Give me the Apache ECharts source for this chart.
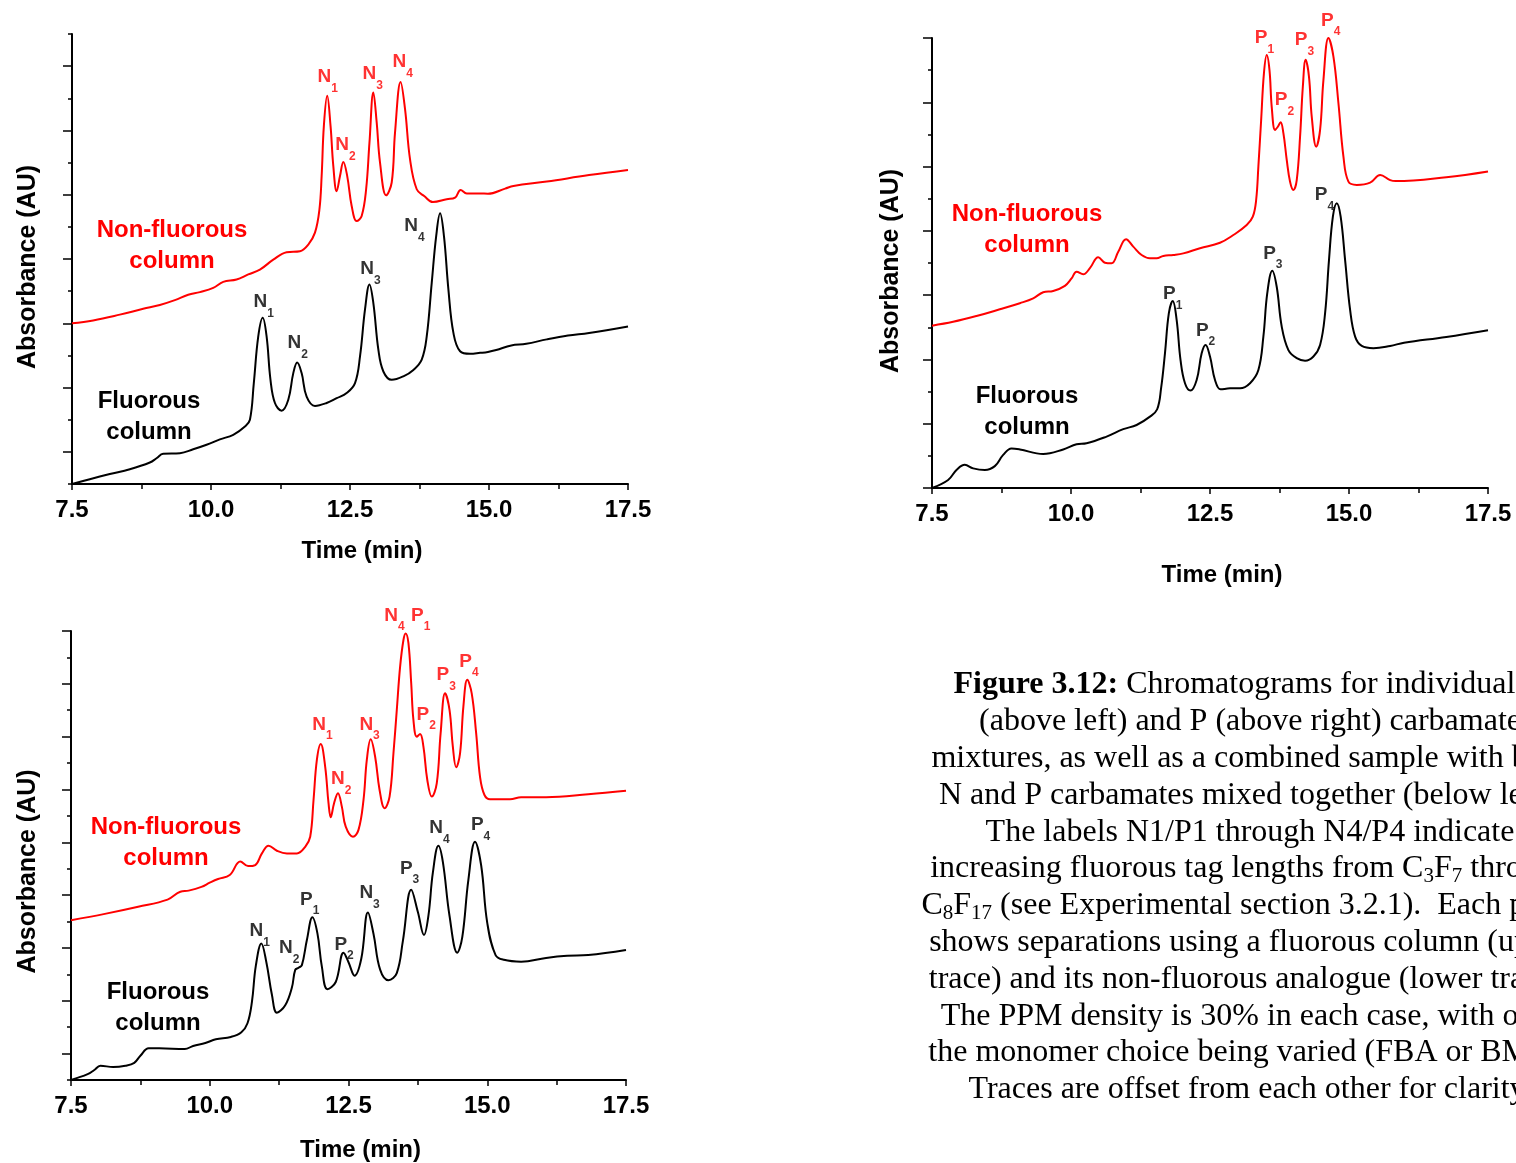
<!DOCTYPE html>
<html>
<head>
<meta charset="utf-8">
<title>Figure 3.12 chromatograms</title>
<script src="https://cdn.jsdelivr.net/npm/echarts@6.0.0/dist/echarts.min.js"></script>
<style>
  html, body { margin: 0; padding: 0; background: #fff; }
  #chart { width: 1516px; height: 1163px; }
</style>
</head>
<body>
<div id="chart"></div>
<script>
// ---- data: [time (min), absorbance (offset units)] ----

// time axis labels
const timeTicks = [7.5, 10.0, 12.5, 15.0, 17.5]

// top left: N carbamates
const nFluorous = [[7.5,0],[7.82,0.15],[8.18,0.31],[8.54,0.46],[8.9,0.67],[9.02,0.8],[9.14,0.94],[9.44,0.96],[9.68,1.08],[9.92,1.22],[10.16,1.39],[10.4,1.53],[10.61,1.79],[10.7,2.0],[10.77,3.14],[10.85,4.59],[10.93,5.17],[11.0,4.59],[11.07,3.24],[11.15,2.52],[11.27,2.28],[11.39,2.62],[11.48,3.45],[11.55,3.78],[11.63,3.45],[11.72,2.72],[11.87,2.43],[12.08,2.52],[12.26,2.67],[12.44,2.83],[12.59,3.14],[12.68,3.97],[12.77,5.43],[12.85,6.21],[12.92,5.63],[13.01,4.18],[13.1,3.5],[13.25,3.24],[13.46,3.35],[13.64,3.55],[13.79,3.87],[13.88,4.59],[13.97,6.26],[14.05,7.71],[14.12,8.42],[14.19,7.71],[14.27,6.05],[14.36,4.7],[14.48,4.13],[14.66,4.05],[14.84,4.08],[14.98,4.11],[15.13,4.17],[15.4,4.31],[15.67,4.36],[16.04,4.5],[16.42,4.62],[16.8,4.7],[17.5,4.9]]
const nNonFluorous = [[7.5,5.0],[7.88,5.09],[8.36,5.27],[8.78,5.45],[9.08,5.57],[9.35,5.72],[9.59,5.89],[9.8,5.97],[10.04,6.1],[10.22,6.29],[10.46,6.36],[10.67,6.52],[10.88,6.67],[11.12,6.98],[11.36,7.21],[11.6,7.24],[11.75,7.45],[11.87,7.82],[11.95,8.54],[11.99,9.58],[12.03,11.14],[12.09,12.08],[12.15,11.14],[12.2,9.89],[12.26,9.11],[12.32,9.58],[12.38,10.02],[12.45,9.58],[12.53,8.65],[12.62,8.18],[12.71,8.34],[12.79,9.17],[12.85,10.62],[12.92,12.18],[12.98,11.25],[13.04,10.0],[13.15,8.98],[13.25,9.38],[13.31,10.94],[13.41,12.51],[13.49,11.66],[13.58,10.1],[13.7,9.17],[13.84,8.95],[13.99,8.77],[14.24,8.86],[14.39,8.91],[14.49,9.15],[14.6,9.04],[14.84,9.04],[14.98,9.03],[15.29,9.19],[15.44,9.27],[16.04,9.41],[16.8,9.61],[17.5,9.77]]

// top right: P carbamates
const pFluorous = [[7.5,0],[7.79,0.25],[7.94,0.56],[8.09,0.72],[8.24,0.61],[8.45,0.56],[8.63,0.68],[8.78,1.03],[8.93,1.23],[9.08,1.2],[9.5,1.06],[9.86,1.2],[10.1,1.36],[10.28,1.39],[10.64,1.6],[10.94,1.83],[11.18,1.96],[11.42,2.22],[11.55,2.45],[11.62,3.1],[11.69,4.19],[11.76,5.44],[11.83,5.82],[11.9,5.23],[11.97,3.98],[12.05,3.26],[12.15,3.03],[12.26,3.36],[12.35,4.19],[12.42,4.45],[12.5,4.09],[12.59,3.36],[12.69,3.07],[12.86,3.1],[13.04,3.1],[13.22,3.26],[13.37,3.67],[13.46,4.71],[13.53,6.06],[13.62,6.76],[13.7,6.26],[13.79,5.02],[13.91,4.29],[14.06,4.04],[14.21,3.96],[14.36,4.09],[14.48,4.45],[14.57,5.44],[14.64,7.09],[14.71,8.44],[14.78,8.86],[14.85,8.44],[14.93,7.09],[15.02,5.54],[15.11,4.71],[15.23,4.42],[15.44,4.35],[15.74,4.42],[15.99,4.52],[16.75,4.7],[17.5,4.91]]
const pNonFluorous = [[7.5,5.05],[7.88,5.17],[8.3,5.35],[8.72,5.56],[9.08,5.75],[9.32,5.9],[9.5,6.09],[9.68,6.13],[9.89,6.29],[10.01,6.52],[10.1,6.73],[10.22,6.65],[10.34,6.84],[10.49,7.18],[10.61,7.01],[10.73,6.99],[10.85,7.35],[10.99,7.74],[11.12,7.51],[11.27,7.25],[11.42,7.15],[11.54,7.15],[11.66,7.22],[11.84,7.25],[12.02,7.3],[12.32,7.46],[12.68,7.63],[12.92,7.87],[13.16,8.18],[13.27,8.44],[13.33,8.96],[13.37,10.0],[13.42,11.45],[13.47,12.9],[13.52,13.47],[13.57,13.0],[13.61,11.86],[13.67,11.14],[13.72,11.24],[13.77,11.38],[13.82,11.04],[13.88,10.21],[13.94,9.53],[14.0,9.27],[14.06,9.58],[14.12,10.93],[14.17,12.49],[14.22,13.32],[14.28,12.8],[14.33,11.55],[14.41,10.62],[14.48,11.14],[14.54,12.69],[14.63,14.0],[14.72,13.42],[14.81,11.97],[14.9,10.31],[14.99,9.53],[15.14,9.43],[15.38,9.5],[15.56,9.74],[15.74,9.58],[15.84,9.55],[16.75,9.67],[17.5,9.85]]

// bottom left: N and P mixed
const npFluorous = [[7.5,0],[7.8,0.22],[7.92,0.38],[8.03,0.54],[8.26,0.49],[8.48,0.54],[8.64,0.65],[8.75,0.92],[8.9,1.2],[9.09,1.2],[9.55,1.17],[9.7,1.29],[9.92,1.4],[10.11,1.54],[10.38,1.63],[10.57,1.81],[10.68,2.15],[10.76,2.96],[10.83,4.32],[10.93,5.17],[11.02,4.46],[11.12,3.23],[11.21,2.55],[11.36,2.83],[11.48,3.5],[11.54,4.17],[11.6,4.25],[11.66,4.35],[11.75,5.3],[11.85,6.16],[11.94,5.55],[12.02,4.29],[12.12,3.44],[12.27,3.71],[12.41,4.82],[12.5,4.46],[12.61,3.95],[12.73,4.59],[12.85,6.34],[12.95,5.54],[13.07,4.18],[13.22,3.78],[13.37,4.05],[13.48,5.27],[13.63,7.2],[13.75,6.36],[13.86,5.49],[13.94,6.22],[14.02,7.85],[14.12,8.87],[14.2,8.26],[14.32,6.22],[14.46,4.82],[14.55,5.41],[14.66,7.58],[14.78,9.02],[14.89,8.13],[15.0,5.95],[15.15,4.73],[15.3,4.55],[15.61,4.48],[16.06,4.62],[16.44,4.7],[16.82,4.73],[17.5,4.92]]
const npNonFluorous = [[7.5,6.05],[8.11,6.29],[8.71,6.56],[9.24,6.83],[9.47,7.13],[9.62,7.17],[9.85,7.31],[10.0,7.47],[10.15,7.61],[10.36,7.76],[10.55,8.27],[10.69,8.1],[10.82,8.14],[10.94,8.58],[11.06,8.87],[11.21,8.68],[11.39,8.58],[11.57,8.58],[11.72,8.83],[11.81,9.21],[11.87,10.6],[11.93,12.12],[12.0,12.72],[12.08,11.86],[12.14,10.48],[12.18,9.95],[12.24,10.48],[12.31,10.86],[12.38,10.35],[12.45,9.59],[12.58,9.21],[12.68,9.47],[12.77,10.6],[12.83,12.12],[12.9,12.9],[12.98,12.24],[13.06,10.98],[13.15,10.29],[13.24,10.73],[13.31,12.37],[13.37,14.01],[13.43,15.65],[13.49,16.66],[13.53,16.91],[13.58,16.54],[13.63,15.02],[13.67,13.63],[13.73,13.0],[13.79,13.1],[13.85,12.62],[13.92,11.36],[14.0,10.73],[14.09,11.23],[14.16,13.13],[14.24,14.64],[14.32,14.01],[14.38,12.62],[14.44,11.84],[14.51,12.37],[14.57,14.14],[14.64,15.15],[14.72,14.64],[14.8,13.13],[14.87,11.48],[14.95,10.79],[15.05,10.63],[15.41,10.63],[15.61,10.71],[16.06,10.71],[16.82,10.82],[17.5,10.95]]

// peak labels: [letter, subscript, time, absorbance] (label centre in data units)
const nFluorousLabels = [['N','1',10.95,5.53],['N','2',11.56,4.27],['N','3',12.87,6.56],['N','4',13.66,7.91]]
const nNonFluorousLabels = [['N','1',12.1,12.54],['N','2',12.42,10.43],['N','3',12.91,12.64],['N','4',13.45,13.01]]
const pFluorousLabels = [['P','1',11.83,5.92],['P','2',12.42,4.78],['P','3',13.63,7.17],['P','4',14.56,8.99]]
const pNonFluorousLabels = [['P','1',13.48,13.87],['P','2',13.84,11.95],['P','3',14.2,13.82],['P','4',14.67,14.42]]
const npFluorousLabels = [['N','1',10.9,5.48],['N','2',11.43,4.85],['P','1',11.8,6.68],['P','2',12.42,4.98],['N','3',12.88,6.94],['P','3',13.6,7.86],['N','4',14.14,9.4],['P','4',14.88,9.5]]
const npNonFluorousLabels = [['N','1',12.03,13.31],['N','2',12.37,11.25],['N','3',12.88,13.31],['N','4',13.33,17.44],['P','1',13.8,17.44],['P','2',13.9,13.69],['P','3',14.26,15.18],['P','4',14.67,15.69]]

// y tick marks: long ones at these offsets
const longTicksN = [1, 3, 5, 7, 9, 11, 13]
const longTicksP = [0, 2, 4, 6, 8, 10, 12, 14]
const longTicksNP = [1, 3, 5, 7, 9, 11, 13, 15, 17]

// caption lines
const captionLines = [
  '{b|Figure 3.12:} Chromatograms for individual N',
  '(above left) and P (above right) carbamate',
  'mixtures, as well as a combined sample with both',
  'N and P carbamates mixed together (below left).',
  'The labels N1/P1 through N4/P4 indicate',
  'increasing fluorous tag lengths from C{s|3}F{s|7} through',
  'C{s|8}F{s|17} (see Experimental section 3.2.1).  Each panel',
  'shows separations using a fluorous column (upper',
  'trace) and its non-fluorous analogue (lower trace).',
  'The PPM density is 30% in each case, with only',
  'the monomer choice being varied (FBA or BMA).',
  'Traces are offset from each other for clarity.'
]

// ---- chart ----
const SANS = '"Liberation Sans", Arial, sans-serif'
const SERIF = '"Liberation Serif", "Times New Roman", serif'
const RED = '#ff0000'
const BLACK = '#000000'

// 三个面板的位置
const panels = [
  { grid: { left: 72, top: 34, width: 556, height: 450 }, yMax: 14, longTicks: longTicksN,
    xGap: 55, yGap: 31, yShift: 16,
    traces: [nFluorous, nNonFluorous], labels: [nFluorousLabels, nNonFluorousLabels] },
  { grid: { left: 932, top: 38, width: 556, height: 450 }, yMax: 14, longTicks: longTicksP,
    xGap: 75, yGap: 28, yShift: 16,
    traces: [pFluorous, pNonFluorous], labels: [pFluorousLabels, pNonFluorousLabels] },
  { grid: { left: 71, top: 631, width: 555, height: 449 }, yMax: 17, longTicks: longTicksNP,
    xGap: 58, yGap: 30, yShift: 32,
    traces: [npFluorous, npNonFluorous], labels: [npFluorousLabels, npNonFluorousLabels] }
]

const grids = []
const xAxes = []
const yAxes = []
const series = []

const peakRich = color => ({
  b: { fontSize: 19, fontWeight: 'bold', fontFamily: SANS, color, lineHeight: 27, verticalAlign: 'top' },
  s: { fontSize: 12, fontWeight: 'bold', fontFamily: SANS, color, verticalAlign: 'bottom' }
})

panels.forEach((p, i) => {
  grids.push(Object.assign({ outerBoundsMode: 'none' }, p.grid))

  xAxes.push({
    gridIndex: i,
    type: 'value',
    min: 7.5,
    max: 17.5,
    interval: 2.5,
    name: 'Time (min)',
    nameLocation: 'middle',
    nameGap: p.xGap,
    nameTextStyle: { fontSize: 24, fontWeight: 'bold', color: BLACK, fontFamily: SANS, padding: [0, 0, 0, 24] },
    axisLine: { lineStyle: { color: BLACK, width: 2 } },
    axisTick: { length: 6, lineStyle: { color: BLACK, width: 1.5 } },
    minorTick: { show: true, splitNumber: 2, length: 5, lineStyle: { color: BLACK, width: 1.5 } },
    axisLabel: {
      fontSize: 24, fontWeight: 'bold', color: BLACK, fontFamily: SANS, margin: 14,
      showMinLabel: true, showMaxLabel: true,
      customValues: timeTicks,
      formatter: v => v.toFixed(1)
    },
    splitLine: { show: false }
  })

  // 主 y 轴: 短刻度
  yAxes.push({
    gridIndex: i,
    type: 'value',
    min: 0,
    max: p.yMax,
    interval: 1,
    name: 'Absorbance (AU)',
    nameLocation: 'middle',
    nameGap: p.yGap,
    nameRotate: 90,
    nameTextStyle: { fontSize: 25, fontWeight: 'bold', color: BLACK, fontFamily: SANS, padding: [0, p.yShift, 0, 0] },
    axisLine: { show: true, lineStyle: { color: BLACK, width: 2 } },
    axisTick: { show: true, length: 4, lineStyle: { color: BLACK, width: 1.5 } },
    axisLabel: { show: false },
    splitLine: { show: false }
  })
  // 叠加 y 轴: 长刻度
  yAxes.push({
    gridIndex: i,
    type: 'value',
    position: 'left',
    min: 0,
    max: p.yMax,
    interval: 1,
    axisLine: { show: false },
    axisTick: { show: true, length: 9, customValues: p.longTicks, lineStyle: { color: BLACK, width: 1.5 } },
    axisLabel: { show: false },
    splitLine: { show: false }
  })

  const colors = [BLACK, RED]
  p.traces.forEach((trace, k) => {
    series.push({
      type: 'line',
      xAxisIndex: i,
      yAxisIndex: i * 2,
      data: trace,
      showSymbol: false,
      smooth: 0.4,
      clip: false,
      lineStyle: { color: colors[k], width: 2 },
      silent: true
    })
  })
  p.labels.forEach((labels, k) => {
    series.push({
      type: 'scatter',
      xAxisIndex: i,
      yAxisIndex: i * 2,
      symbolSize: 1,
      clip: false,
      silent: true,
      itemStyle: { color: 'transparent' },
      label: {
        show: true,
        position: 'inside',
        rich: peakRich(colors[k]),
        formatter: prm => `{b|${prm.data.name}}{s|${prm.data.sub}}`
      },
      data: labels.map(l => ({ value: [l[2], l[3]], name: l[0], sub: l[1] }))
    })
  })
})

// 面板内的文字说明
const columnText = (x, y, text, color) => ({
  type: 'text',
  x,
  y,
  silent: true,
  style: {
    text,
    fill: color,
    font: `bold 24px ${SANS}`,
    align: 'center',
    verticalAlign: 'middle',
    lineHeight: 31
  }
})

const graphics = [
  columnText(172, 246, 'Non-fluorous\ncolumn', RED),
  columnText(149, 417, 'Fluorous\ncolumn', BLACK),
  columnText(1027, 230, 'Non-fluorous\ncolumn', RED),
  columnText(1027, 412, 'Fluorous\ncolumn', BLACK),
  columnText(166, 843, 'Non-fluorous\ncolumn', RED),
  columnText(158, 1008, 'Fluorous\ncolumn', BLACK)
]

// 图注 (右侧被裁掉, 与原图一致)
const captionRich = {
  b: { fontSize: 32, fontWeight: 'bold', fontFamily: SERIF, lineHeight: 36, fill: BLACK },
  s: { fontSize: 21, fontFamily: SERIF, verticalAlign: 'bottom', fill: BLACK }
}
captionLines.forEach((line, n) => {
  graphics.push({
    type: 'text',
    x: 1250,
    y: 685 + n * 36.8,
    silent: true,
    style: {
      text: line,
      rich: captionRich,
      fill: BLACK,
      font: `32px ${SERIF}`,
      lineHeight: 36,
      align: 'center',
      verticalAlign: 'middle'
    }
  })
})

const chart = echarts.init(document.getElementById('chart'), null, { renderer: 'canvas' })
chart.setOption({
  backgroundColor: '#ffffff',
  animation: false,
  textStyle: { fontFamily: SANS },
  grid: grids,
  xAxis: xAxes,
  yAxis: yAxes,
  series,
  graphic: graphics
})
</script>
</body>
</html>
